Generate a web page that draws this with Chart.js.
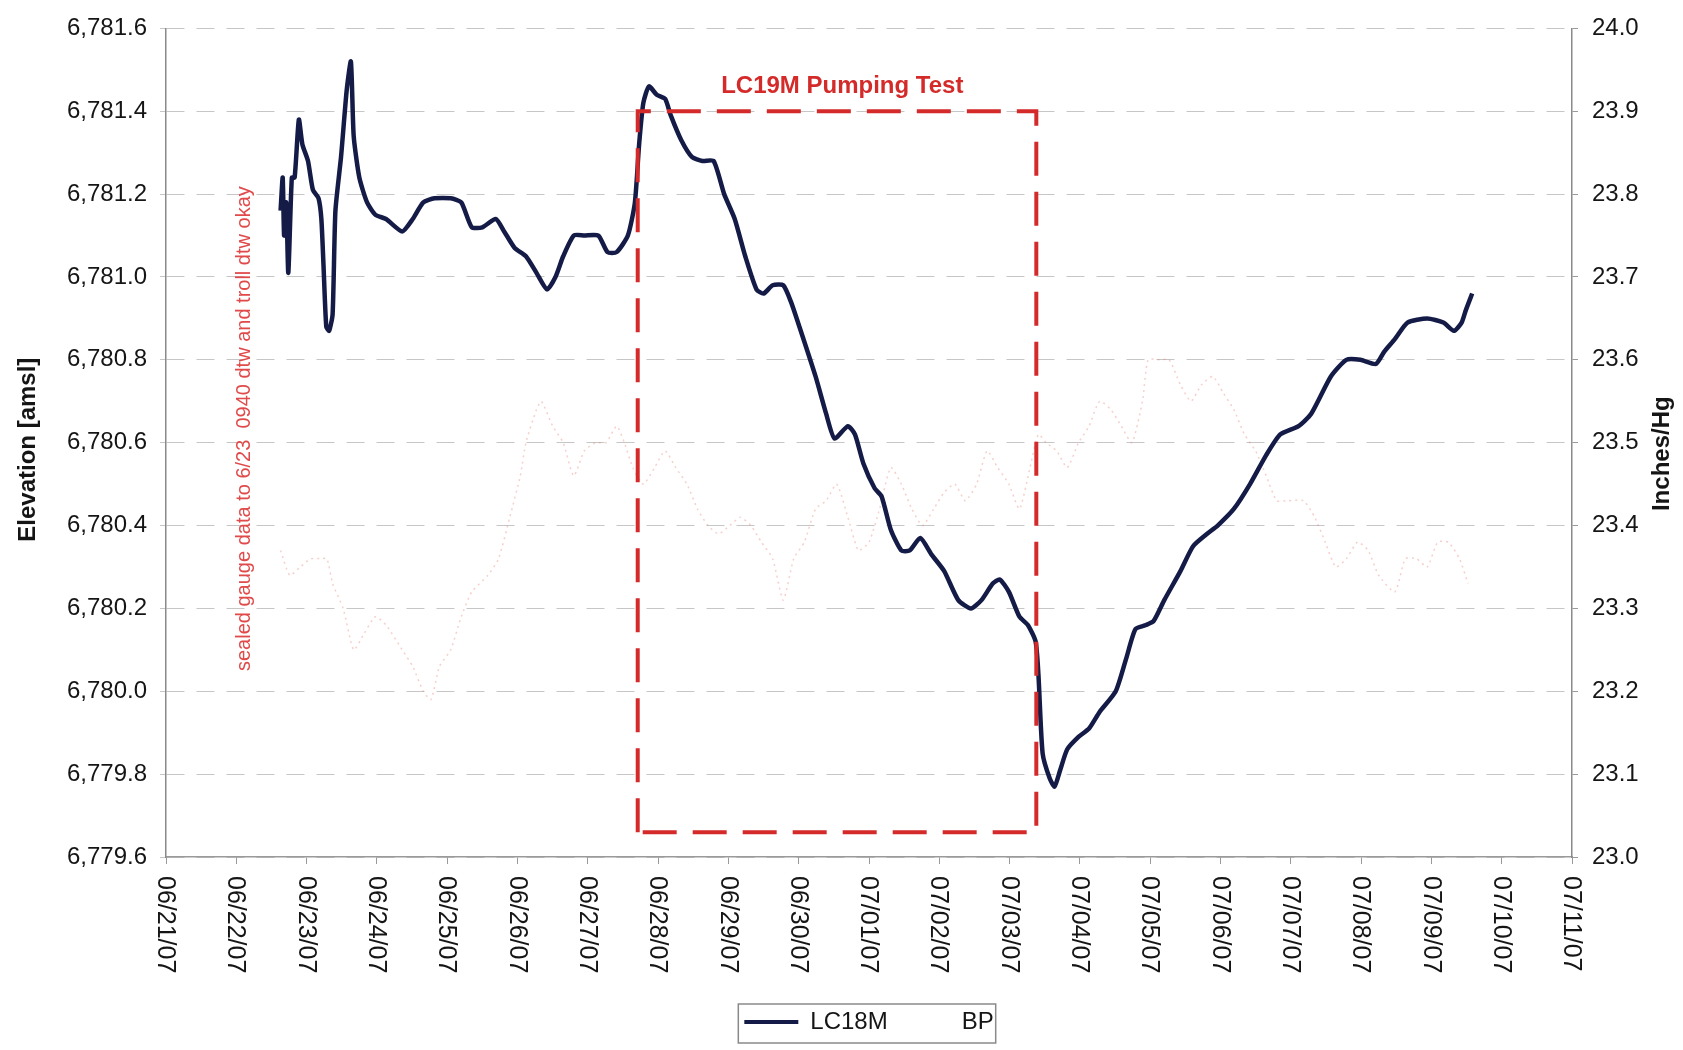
<!DOCTYPE html>
<html>
<head>
<meta charset="utf-8">
<title>LC18M Water Level</title>
<script src="https://cdn.jsdelivr.net/npm/chart.js@4.4.1/dist/chart.umd.min.js"></script>
<style>
html, body { margin: 0; padding: 0; background: #fff; }
#holder { width: 1683px; height: 1050px; position: relative; }
</style>
</head>
<body>
<div id="holder"><canvas id="levelChart"></canvas></div>
<script>
// x positions are days elapsed since 06/21/07 00:00
const dateLabels = ['06/21/07', '06/22/07', '06/23/07', '06/24/07', '06/25/07', '06/26/07', '06/27/07',
    '06/28/07', '06/29/07', '06/30/07', '07/01/07', '07/02/07', '07/03/07', '07/04/07', '07/05/07',
    '07/06/07', '07/07/07', '07/08/07', '07/09/07', '07/10/07', '07/11/07']

// LC18M elevation [amsl]
const lcDays = [1.63, 1.66, 1.68, 1.71, 1.74, 1.79, 1.83, 1.89, 1.94, 2.02, 2.09, 2.17, 2.21, 2.24, 2.28,
    2.32, 2.37, 2.41, 2.49, 2.57, 2.63, 2.67, 2.75, 2.86, 2.98, 3.13, 3.36, 3.51, 3.66, 3.82, 4.05, 4.20,
    4.35, 4.50, 4.69, 4.81, 4.96, 5.12, 5.27, 5.42, 5.54, 5.65, 5.80, 5.95, 6.15, 6.28, 6.41, 6.57, 6.67,
    6.73, 6.79, 6.87, 6.98, 7.10, 7.18, 7.33, 7.48, 7.63, 7.79, 7.94, 8.09, 8.24, 8.40, 8.50, 8.63, 8.78,
    8.89, 9.01, 9.24, 9.39, 9.51, 9.70, 9.80, 9.92, 10.08, 10.18, 10.31, 10.46, 10.58, 10.73, 10.89, 11.07,
    11.27, 11.45, 11.60, 11.76, 11.86, 11.99, 12.14, 12.26, 12.37, 12.41, 12.47, 12.57, 12.64, 12.72, 12.82,
    12.98, 13.13, 13.28, 13.51, 13.66, 13.79, 13.94, 14.05, 14.20, 14.43, 14.61, 14.81, 14.96, 15.19, 15.42,
    15.65, 15.85, 16.11, 16.29, 16.57, 16.79, 16.99, 17.21, 17.33, 17.48, 17.66, 17.94, 18.17, 18.32, 18.43,
    18.49, 18.58]
const lcLevel = [6781.16, 6781.24, 6781.10, 6781.18, 6781.01, 6781.24, 6781.24, 6781.38, 6781.32, 6781.28,
    6781.21, 6781.19, 6781.14, 6781.03, 6780.88, 6780.87, 6780.91, 6781.16, 6781.29, 6781.45, 6781.52,
    6781.34, 6781.24, 6781.18, 6781.15, 6781.14, 6781.11, 6781.14, 6781.18, 6781.19, 6781.19, 6781.18,
    6781.12, 6781.12, 6781.14, 6781.11, 6781.07, 6781.05, 6781.01, 6780.97, 6781.00, 6781.05, 6781.10,
    6781.10, 6781.10, 6781.06, 6781.06, 6781.10, 6781.18, 6781.32, 6781.42, 6781.46, 6781.44, 6781.43,
    6781.39, 6781.33, 6781.29, 6781.28, 6781.28, 6781.20, 6781.14, 6781.05, 6780.97, 6780.96, 6780.98,
    6780.98, 6780.94, 6780.88, 6780.76, 6780.67, 6780.61, 6780.64, 6780.62, 6780.55, 6780.49, 6780.47,
    6780.39, 6780.34, 6780.34, 6780.37, 6780.33, 6780.29, 6780.22, 6780.20, 6780.22, 6780.26, 6780.27,
    6780.24, 6780.18, 6780.16, 6780.12, 6780.04, 6779.85, 6779.79, 6779.77, 6779.81, 6779.86, 6779.89,
    6779.91, 6779.95, 6780.00, 6780.08, 6780.15, 6780.16, 6780.17, 6780.22, 6780.29, 6780.35, 6780.38,
    6780.40, 6780.44, 6780.50, 6780.57, 6780.62, 6780.64, 6780.67, 6780.76, 6780.80, 6780.80, 6780.79,
    6780.82, 6780.85, 6780.89, 6780.90, 6780.89, 6780.87, 6780.89, 6780.92, 6780.96]

// barometric pressure, inches Hg
const bpDays = [1.63, 1.76, 1.91, 2.06, 2.21, 2.29, 2.37, 2.52, 2.67, 2.82, 2.98, 3.13, 3.36, 3.51, 3.66,
    3.77, 3.89, 4.05, 4.20, 4.35, 4.58, 4.73, 4.89, 5.04, 5.12, 5.27, 5.34, 5.50, 5.65, 5.80, 5.95, 6.11,
    6.26, 6.41, 6.52, 6.64, 6.79, 6.95, 7.10, 7.25, 7.41, 7.56, 7.71, 7.86, 8.02, 8.17, 8.32, 8.47, 8.63,
    8.78, 8.93, 9.08, 9.24, 9.39, 9.54, 9.70, 9.85, 10.00, 10.15, 10.31, 10.46, 10.61, 10.76, 10.92, 11.07,
    11.22, 11.37, 11.53, 11.68, 11.83, 11.99, 12.14, 12.29, 12.41, 12.52, 12.67, 12.82, 12.98, 13.13, 13.28,
    13.44, 13.59, 13.74, 13.89, 13.97, 14.12, 14.27, 14.43, 14.58, 14.73, 14.89, 15.04, 15.19, 15.34, 15.50,
    15.65, 15.80, 15.95, 16.18, 16.34, 16.49, 16.64, 16.79, 16.95, 17.10, 17.25, 17.48, 17.63, 17.79, 17.94,
    18.09, 18.24, 18.40, 18.52]
const bpPressure = [23.37, 23.34, 23.35, 23.36, 23.36, 23.36, 23.33, 23.30, 23.25, 23.27, 23.29, 23.28,
    23.25, 23.23, 23.20, 23.19, 23.23, 23.25, 23.29, 23.32, 23.34, 23.36, 23.41, 23.46, 23.50, 23.54, 23.55,
    23.52, 23.50, 23.46, 23.49, 23.50, 23.50, 23.52, 23.50, 23.47, 23.45, 23.47, 23.49, 23.47, 23.45, 23.42,
    23.40, 23.39, 23.40, 23.41, 23.40, 23.38, 23.36, 23.31, 23.36, 23.38, 23.42, 23.43, 23.45, 23.41, 23.37,
    23.38, 23.42, 23.47, 23.45, 23.42, 23.40, 23.42, 23.44, 23.45, 23.43, 23.45, 23.49, 23.47, 23.45, 23.42,
    23.47, 23.51, 23.50, 23.49, 23.47, 23.50, 23.52, 23.55, 23.54, 23.52, 23.50, 23.55, 23.60, 23.60, 23.60,
    23.57, 23.55, 23.57, 23.58, 23.56, 23.54, 23.51, 23.49, 23.46, 23.43, 23.43, 23.43, 23.41, 23.38, 23.35,
    23.36, 23.38, 23.37, 23.34, 23.32, 23.36, 23.36, 23.35, 23.38, 23.38, 23.36, 23.33]

// LC19M pumping test window: [start day, end day], [bottom, top] elevation
const pumpDays = [6.71, 12.38]
const pumpLevels = [6779.66, 6781.40]

const titleAt = [9.62, 6781.46]
const noteAt = [1.12, 6780.634]
const noteText = 'sealed gauge data to 6/23  0940 dtw and troll dtw okay'

const fontFamily = '"Liberation Sans", Arial, Helvetica, sans-serif'
const navy = '#141b47'
const red = '#d42a2a'

Chart.defaults.font.family = fontFamily
Chart.defaults.color = '#151515'

let lcPoints = lcDays.map((d, i) => ({ x: d, y: lcLevel[i] }))
let bpPoints = bpDays.map((d, i) => ({ x: d, y: bpPressure[i] }))
let pumpBox = [
    { x: pumpDays[0], y: pumpLevels[0] },
    { x: pumpDays[0], y: pumpLevels[1] },
    { x: pumpDays[1], y: pumpLevels[1] },
    { x: pumpDays[1], y: pumpLevels[0] },
    { x: pumpDays[0], y: pumpLevels[0] }
]

// date labels turned clockwise, axis titles, notes and the legend frame
const overlayText = {
    id: 'overlayText',
    afterDraw(chart) {
        const ctx = chart.ctx
        const xs = chart.scales.x
        const ys = chart.scales.y
        const area = chart.chartArea
        const mid = (area.top + area.bottom) / 2

        ctx.save()
        ctx.fillStyle = '#151515'
        ctx.font = '25px ' + fontFamily
        ctx.textAlign = 'left'
        ctx.textBaseline = 'middle'
        dateLabels.forEach((label, i) => {
            ctx.save()
            ctx.translate(xs.getPixelForValue(i) - 1, area.bottom + 19)
            ctx.rotate(Math.PI / 2)
            ctx.fillText(label, 0, 0)
            ctx.restore()
        })

        ctx.textAlign = 'center'
        ctx.font = 'bold 24px ' + fontFamily
        ctx.save()
        ctx.translate(28, mid + 7)
        ctx.rotate(-Math.PI / 2)
        ctx.fillText('Elevation [amsl]', 0, 0)
        ctx.restore()

        ctx.save()
        ctx.translate(1662, mid + 11)
        ctx.rotate(-Math.PI / 2)
        ctx.fillText('Inches/Hg', 0, 0)
        ctx.restore()

        ctx.fillStyle = red
        ctx.fillText('LC19M Pumping Test', xs.getPixelForValue(titleAt[0]), ys.getPixelForValue(titleAt[1]))

        ctx.fillStyle = '#e04a4a'
        ctx.font = '20px ' + fontFamily
        ctx.save()
        ctx.translate(xs.getPixelForValue(noteAt[0]), ys.getPixelForValue(noteAt[1]))
        ctx.rotate(-Math.PI / 2)
        ctx.fillText(noteText, 0, 0)
        ctx.restore()

        let boxes = chart.legend.legendHitBoxes
        if (boxes.length) {
            let left = Math.min(...boxes.map(b => b.left)) - 6
            let right = Math.max(...boxes.map(b => b.left + b.width)) + 2
            ctx.strokeStyle = '#8a8a8a'
            ctx.lineWidth = 1.5
            ctx.strokeRect(left, chart.legend.top + 2, right - left, chart.legend.height - 3)
        }
        ctx.restore()
    }
}

let config = {
    type: 'line',
    data: {
        datasets: [
            {
                label: 'pumping',
                data: pumpBox,
                borderColor: red,
                borderWidth: 4,
                borderDash: [34, 16],
                pointRadius: 0,
                tension: 0,
                yAxisID: 'y',
                order: 0
            },
            {
                label: 'LC18M',
                data: lcPoints,
                borderColor: navy,
                backgroundColor: navy,
                borderWidth: 4.5,
                pointRadius: 0,
                tension: 0.2,
                yAxisID: 'y',
                order: 1
            },
            {
                label: 'BP',
                data: bpPoints,
                borderColor: 'rgba(226, 120, 110, 0.35)',
                backgroundColor: 'rgba(0, 0, 0, 0)',
                borderWidth: 1.5,
                borderDash: [2, 4],
                pointRadius: 0,
                tension: 0.2,
                yAxisID: 'y2',
                order: 2
            }
        ]
    },
    options: {
        responsive: true,
        maintainAspectRatio: false,
        animation: false,
        layout: { padding: { top: 21, bottom: 6, left: 0, right: 0 } },
        plugins: {
            tooltip: { enabled: false },
            legend: {
                position: 'bottom',
                fullSize: false,
                labels: {
                    boxWidth: 54,
                    boxHeight: 4,
                    padding: 8,
                    font: { size: 24 },
                    color: '#151515',
                    filter: item => item.text !== 'pumping',
                    generateLabels(chart) {
                        let items = Chart.defaults.plugins.legend.labels.generateLabels(chart)
                        items.forEach(item => {
                            item.lineWidth = 0
                            if (item.text === 'BP') {
                                item.fillStyle = 'rgba(0, 0, 0, 0)'
                                item.strokeStyle = 'rgba(0, 0, 0, 0)'
                            }
                        })
                        return items
                    }
                }
            }
        },
        scales: {
            x: {
                type: 'linear',
                min: 0,
                max: 20,
                ticks: { stepSize: 1, display: false },
                grid: { drawOnChartArea: false, tickLength: 7, color: '#9a9a9a' },
                border: { color: '#9a9a9a', width: 1.5 },
                afterFit: scale => { scale.height = 145 }
            },
            y: {
                position: 'left',
                min: 6779.6,
                max: 6781.6,
                ticks: {
                    stepSize: 0.2,
                    padding: 13,
                    font: { size: 24 },
                    callback: v => v.toLocaleString('en-US', { minimumFractionDigits: 1, maximumFractionDigits: 1 })
                },
                grid: { color: 'rgba(120, 120, 120, 0.42)', lineWidth: 1, tickLength: 6 },
                border: { color: '#8a8a8a', width: 1.5, dash: [18, 12] },
                afterFit: scale => { scale.width = 166 }
            },
            y2: {
                position: 'right',
                min: 23.0,
                max: 24.0,
                ticks: {
                    stepSize: 0.1,
                    padding: 14,
                    font: { size: 24 },
                    callback: v => v.toFixed(1)
                },
                grid: { drawOnChartArea: false, tickLength: 6, color: '#9a9a9a' },
                border: { color: '#8a8a8a', width: 1.5 },
                afterFit: scale => { scale.width = 111 }
            }
        }
    },
    plugins: [overlayText]
}

let levelChart = new Chart(document.getElementById('levelChart'), config)
</script>
</body>
</html>
